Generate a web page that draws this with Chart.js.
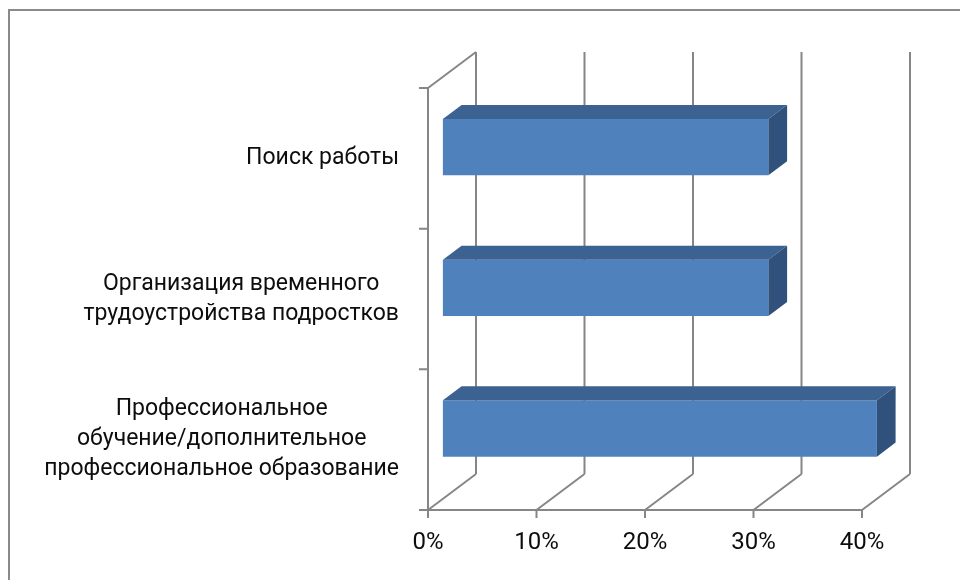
<!DOCTYPE html>
<html>
<head>
<meta charset="utf-8">
<title>Bar chart</title>
<script src="https://cdn.jsdelivr.net/npm/chart.js@4.4.1/dist/chart.umd.min.js"></script>
<style>
    html, body { margin: 0; padding: 0; background: #fff; }
    #wrap { position: relative; width: 960px; height: 580px; overflow: hidden; }
    #frame { position: absolute; left: 8px; top: 9px; width: 1200px; height: 900px; border: 2px solid #8a8a8a; }
    #chart { position: absolute; left: 0; top: 0; }
</style>
</head>
<body>
<div id="wrap">
    <div id="frame"></div>
    <canvas id="chart" width="960" height="580"></canvas>
</div>
<script>
// Chart data
const categories = [
    ['Поиск работы'],
    ['Организация временного', 'трудоустройства подростков'],
    ['Профессиональное', 'обучение/дополнительное', 'профессиональное образование']
];
const shares = [0.30, 0.30, 0.40];
const xTicks = [0, 0.1, 0.2, 0.3, 0.4];

// 3D look
const DEPTH_X = 48;
const DEPTH_Y = -36;
const BAR_FRONT = 0.31;  // where the bar front sits inside the depth
const BAR_DEPTH = 0.39;
const LINE_COLOR = '#868686';
const FRONT_COLOR = '#4f81bd';
const TOP_COLOR = '#3b6291';
const SIDE_COLOR = '#30517b';
const FONT = '23px Roboto';
const TEXT_COLOR = '#0d0d0d';
const LABEL_GAP = 29;
const LABEL_LINE = 30;

const threeD = {
    id: 'threeD',
    beforeDatasetsDraw(chart) {
        const { ctx, chartArea: a, scales: { x } } = chart;
        ctx.save();
        ctx.strokeStyle = LINE_COLOR;
        ctx.lineWidth = 2;
        ctx.beginPath();
        x.ticks.forEach(t => {
            const px = x.getPixelForValue(t.value);
            // back wall
            ctx.moveTo(px + DEPTH_X, a.bottom + DEPTH_Y);
            ctx.lineTo(px + DEPTH_X, a.top + DEPTH_Y);
            // floor
            ctx.moveTo(px, a.bottom);
            ctx.lineTo(px + DEPTH_X, a.bottom + DEPTH_Y);
            // tick mark
            ctx.moveTo(px, a.bottom);
            ctx.lineTo(px, a.bottom + 8);
        });
        ctx.moveTo(a.left - 9, a.bottom);
        ctx.lineTo(a.right, a.bottom);
        ctx.moveTo(a.left, a.top);
        ctx.lineTo(a.left, a.bottom);
        ctx.moveTo(a.left, a.top);
        ctx.lineTo(a.left + DEPTH_X, a.top + DEPTH_Y);
        const n = categories.length;
        for (let k = 0; k < n; k++) {
            const py = a.top + k * (a.bottom - a.top) / n;
            ctx.moveTo(a.left - 9, py);
            ctx.lineTo(a.left, py);
        }
        ctx.stroke();
        ctx.restore();
    },
    beforeDatasetDraw(chart) {
        chart.ctx.save();
        chart.ctx.translate(DEPTH_X * BAR_FRONT, DEPTH_Y * BAR_FRONT);
    },
    afterDatasetDraw(chart, args) {
        const ctx = chart.ctx;
        const dx = DEPTH_X * BAR_DEPTH;
        const dy = DEPTH_Y * BAR_DEPTH;
        args.meta.data.forEach(bar => {
            const { x, y, base, height } = bar.getProps(['x', 'y', 'base', 'height'], true);
            const t = y - height / 2;
            const b = y + height / 2;
            ctx.fillStyle = TOP_COLOR;
            ctx.beginPath();
            ctx.moveTo(base, t);
            ctx.lineTo(x, t);
            ctx.lineTo(x + dx, t + dy);
            ctx.lineTo(base + dx, t + dy);
            ctx.closePath();
            ctx.fill();
            ctx.fillStyle = SIDE_COLOR;
            ctx.beginPath();
            ctx.moveTo(x, t);
            ctx.lineTo(x + dx, t + dy);
            ctx.lineTo(x + dx, b + dy);
            ctx.lineTo(x, b);
            ctx.closePath();
            ctx.fill();
        });
        ctx.restore();
    },
    afterDraw(chart) {
        // category labels: each block right aligned, lines centred inside it
        const { ctx, scales: { y } } = chart;
        ctx.save();
        ctx.font = FONT;
        ctx.fillStyle = TEXT_COLOR;
        ctx.textAlign = 'center';
        ctx.textBaseline = 'middle';
        const right = y.right - LABEL_GAP;
        categories.forEach((lines, i) => {
            const cy = y.getPixelForValue(i);
            const w = Math.max(...lines.map(l => ctx.measureText(l).width));
            const cx = right - w / 2;
            lines.forEach((l, j) => {
                ctx.fillText(l, cx, cy + (j - (lines.length - 1) / 2) * LABEL_LINE);
            });
        });
        ctx.restore();
    }
};

new Chart(document.getElementById('chart'), {
    type: 'bar',
    data: {
        labels: categories,
        datasets: [{
            data: shares,
            backgroundColor: FRONT_COLOR,
            borderWidth: 0,
            barPercentage: 0.4,
            categoryPercentage: 1,
            clip: false
        }]
    },
    options: {
        indexAxis: 'y',
        responsive: false,
        animation: false,
        events: [],
        layout: { padding: { top: 88, right: 98, left: 0, bottom: 0 } },
        plugins: {
            legend: { display: false },
            tooltip: { enabled: false }
        },
        scales: {
            x: {
                min: 0,
                max: 0.4,
                afterBuildTicks: s => { s.ticks = xTicks.map(v => ({ value: v })); },
                afterFit: s => { s.height = 70; },
                grid: { display: false, drawTicks: false },
                border: { display: false },
                ticks: {
                    padding: 19,
                    color: TEXT_COLOR,
                    font: { family: 'Roboto', size: 24 },
                    maxRotation: 0,
                    callback: v => Math.round(v * 100) + '%'
                }
            },
            y: {
                afterFit: s => { s.width = 428; },
                grid: { display: false, drawTicks: false },
                border: { display: false },
                ticks: { display: false }
            }
        }
    },
    plugins: [threeD]
});
</script>
</body>
</html>
